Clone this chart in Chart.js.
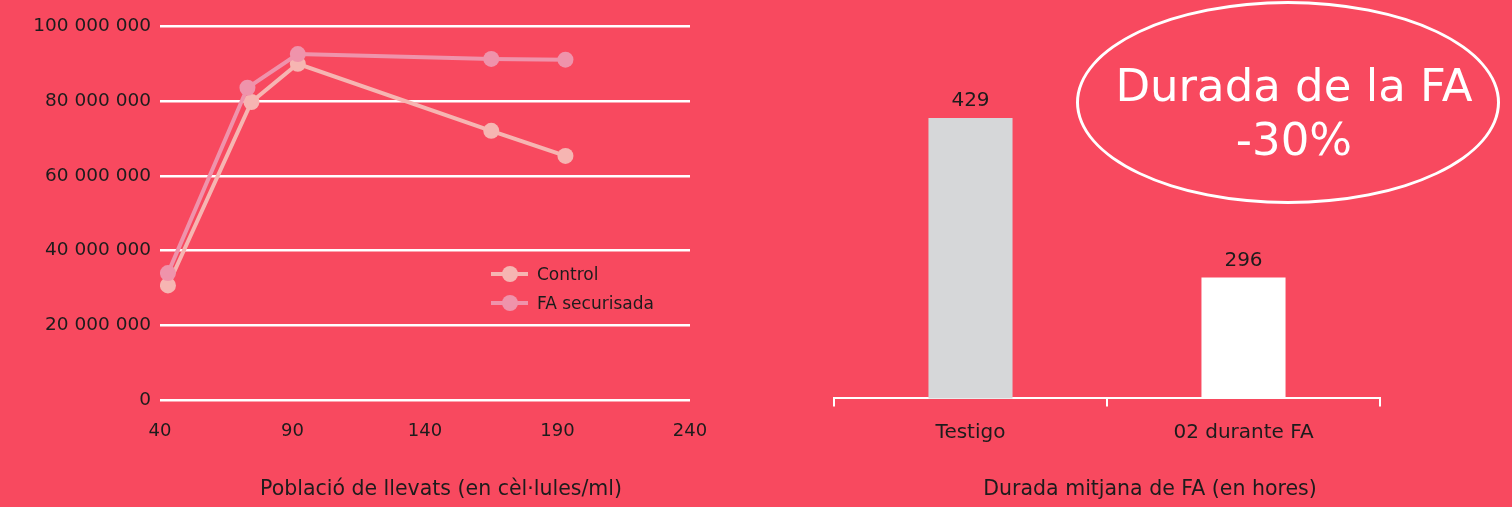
<!DOCTYPE html>
<html>
<head>
<meta charset="utf-8">
<script src="https://cdn.jsdelivr.net/npm/chart.js@4/dist/chart.umd.min.js"></script>
<style>
  html, body { margin: 0; padding: 0; }
  body { width: 1512px; height: 507px; background: #F8495F; position: relative; overflow: hidden;
         font-family: "DejaVu Sans", sans-serif; }
  #popWrap { position: absolute; left: 0; top: 0; width: 882px; height: 507px; }
  #durWrap { position: absolute; left: 790px; top: 0; width: 720px; height: 507px; }
  #legend { position: absolute; left: 491px; top: 259px; }
  .lg-row { display: flex; align-items: center; height: 29px; }
  .lg-icon { position: relative; width: 37px; height: 16px; margin-right: 9px; }
  .lg-line { position: absolute; left: 0; right: 0; top: 6px; height: 4px; }
  .lg-dot { position: absolute; left: 11px; top: 0; width: 16px; height: 16px; border-radius: 50%; }
  .lg-text { font-size: 17px; color: #1c1c1c; white-space: nowrap; }
  #callout { position: absolute; left: 1076px; top: 1px; width: 418px; height: 197px;
             border: 3px solid #ffffff; border-radius: 50%; }
  #calloutText { position: absolute; left: 1082px; top: 59px; width: 424px; text-align: center;
                 color: #ffffff; font-size: 45px; line-height: 54px; }
</style>
</head>
<body>
<div id="popWrap"><canvas id="popChart"></canvas></div>
<div id="durWrap"><canvas id="durChart"></canvas></div>
<div id="legend"></div>
<div id="callout"></div>
<div id="calloutText">Durada de la FA<br>-30%</div>
<script>
// Yeast population over the fermentation (cells/ml)
const controlX = [43, 74.5, 92, 165, 193];
const controlY = [30700000, 79700000, 89900000, 72000000, 65300000];
const securedX = [43, 73, 92, 165, 193];
const securedY = [34000000, 83500000, 92500000, 91200000, 91000000];
const seriesNames = ['Control', 'FA securisada'];

// Mean fermentation length (hours)
const durationCategories = ['Testigo', '02 durante FA'];
const durationValues = [429, 296];

// Axis ranges and ticks
const popXMin = 40, popXMax = 240, popXStep = 50;
const popYMin = 0, popYMax = 100000000, popYStep = 20000000;

const popTitle = 'Població de llevats (en cèl·lules/ml)';
const durTitle = 'Durada mitjana de FA (en hores)';

const INK = '#1c1c1c';
const CONTROL_COLOR = '#F6B5B2';
const SECURED_COLOR = '#EF93AB';
const BAR_COLORS = ['#D6D7D9', '#FFFFFF'];

Chart.defaults.font.family = '"DejaVu Sans", sans-serif';
Chart.defaults.color = INK;

function spaced(v) {
  return String(v).replace(/\B(?=(\d{3})+(?!\d))/g, ' ');
}
function zip(xs, ys) {
  return xs.map((x, i) => ({ x: x, y: ys[i] }));
}

const popChart = new Chart(document.getElementById('popChart'), {
  type: 'line',
  data: {
    datasets: [
      {
        label: seriesNames[0],
        data: zip(controlX, controlY),
        borderColor: CONTROL_COLOR,
        backgroundColor: CONTROL_COLOR,
        borderWidth: 4,
        pointRadius: 8,
        pointHoverRadius: 8,
        pointBorderWidth: 0,
        tension: 0,
        order: 1
      },
      {
        label: seriesNames[1],
        data: zip(securedX, securedY),
        borderColor: SECURED_COLOR,
        backgroundColor: SECURED_COLOR,
        borderWidth: 4,
        pointRadius: 8,
        pointHoverRadius: 8,
        pointBorderWidth: 0,
        tension: 0,
        order: 0
      }
    ]
  },
  options: {
    responsive: true,
    maintainAspectRatio: false,
    animation: false,
    layout: { padding: { top: 26, left: 0, right: 0, bottom: 0 } },
    plugins: {
      legend: { display: false },
      tooltip: { enabled: false },
      title: {
        display: true,
        position: 'bottom',
        text: popTitle,
        color: INK,
        font: { size: 20.5, weight: 'normal' },
        padding: { top: 0, bottom: 5 }
      }
    },
    scales: {
      x: {
        type: 'linear',
        min: popXMin,
        max: popXMax,
        ticks: { stepSize: popXStep, padding: 20, font: { size: 18 }, color: INK },
        grid: { display: false, drawTicks: false },
        border: { display: false },
        afterFit: (s) => { s.height = 77; }
      },
      y: {
        min: popYMin,
        max: popYMax,
        ticks: { stepSize: popYStep, padding: 9, font: { size: 18.5 }, color: INK,
                 callback: (v) => spaced(v) },
        grid: { color: '#FFFFFF', lineWidth: 2.5, drawTicks: false },
        border: { display: false },
        afterFit: (s) => { s.width = 160; }
      },
      rightGap: {
        position: 'right',
        display: true,
        ticks: { display: false },
        grid: { display: false, drawTicks: false },
        border: { display: false },
        afterFit: (s) => { s.width = 192; }
      }
    }
  }
});

// Legend: a short line with a marker, as in a line-with-markers series
(function buildLegend() {
  const box = document.getElementById('legend');
  popChart.data.datasets.forEach((ds) => {
    const row = document.createElement('div');
    row.className = 'lg-row';
    const icon = document.createElement('div');
    icon.className = 'lg-icon';
    const line = document.createElement('div');
    line.className = 'lg-line';
    line.style.background = ds.borderColor;
    const dot = document.createElement('div');
    dot.className = 'lg-dot';
    dot.style.background = ds.backgroundColor;
    icon.appendChild(line);
    icon.appendChild(dot);
    const txt = document.createElement('span');
    txt.className = 'lg-text';
    txt.textContent = ds.label;
    row.appendChild(icon);
    row.appendChild(txt);
    box.appendChild(row);
  });
})();

// Value labels above each bar
const barValueLabels = {
  id: 'barValueLabels',
  afterDatasetsDraw(chart) {
    const ctx = chart.ctx;
    ctx.save();
    ctx.font = '20px "DejaVu Sans", sans-serif';
    ctx.fillStyle = INK;
    ctx.textAlign = 'center';
    ctx.textBaseline = 'middle';
    chart.data.datasets.forEach((ds, di) => {
      chart.getDatasetMeta(di).data.forEach((bar, i) => {
        ctx.fillText(String(ds.data[i]), bar.x, bar.y - 17);
      });
    });
    ctx.restore();
  }
};

new Chart(document.getElementById('durChart'), {
  type: 'bar',
  data: {
    labels: durationCategories,
    datasets: [{
      data: durationValues,
      backgroundColor: BAR_COLORS,
      borderWidth: 0,
      categoryPercentage: 1,
      barPercentage: 0.308
    }]
  },
  plugins: [barValueLabels],
  options: {
    responsive: true,
    maintainAspectRatio: false,
    animation: false,
    layout: { padding: { top: 15, left: 0, right: 0, bottom: 0 } },
    plugins: {
      legend: { display: false },
      tooltip: { enabled: false },
      title: {
        display: true,
        position: 'bottom',
        text: durTitle,
        color: INK,
        font: { size: 20.5, weight: 'normal' },
        padding: { top: 0, bottom: 5 }
      }
    },
    scales: {
      x: {
        ticks: { padding: 14, font: { size: 20 }, color: INK },
        grid: { color: '#FFFFFF', lineWidth: 2, drawOnChartArea: false, drawTicks: true, tickLength: 8 },
        border: { display: true, color: '#FFFFFF', width: 2 },
        afterFit: (s) => { s.height = 79; }
      },
      y: {
        min: 195,
        max: 515,
        display: true,
        ticks: { display: false },
        grid: { display: false, drawTicks: false },
        border: { display: false },
        afterFit: (s) => { s.width = 44; }
      },
      rightGap: {
        position: 'right',
        display: true,
        ticks: { display: false },
        grid: { display: false, drawTicks: false },
        border: { display: false },
        afterFit: (s) => { s.width = 130; }
      }
    }
  }
});
</script>
</body>
</html>
